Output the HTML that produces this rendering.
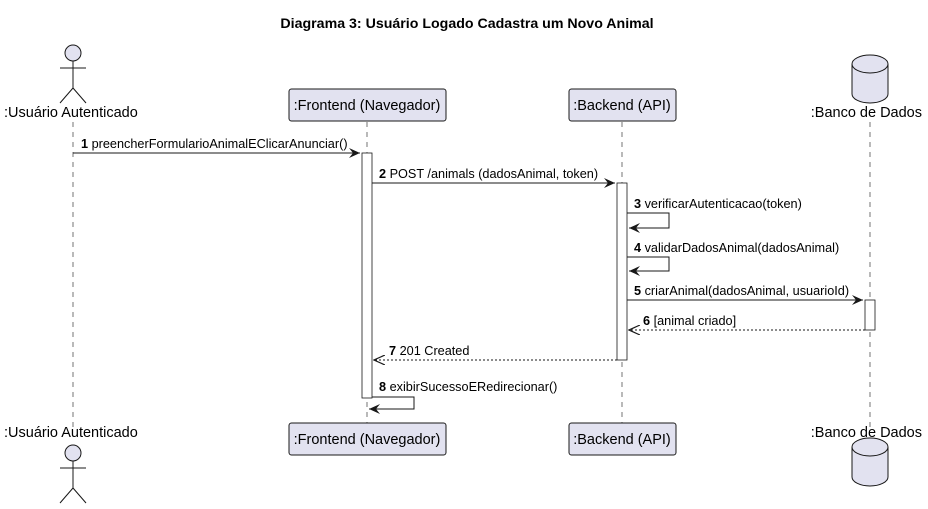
<!DOCTYPE html>
<html><head><meta charset="utf-8"><style>body{margin:0;background:#fff}</style></head><body>
<svg width="928" height="504" xmlns="http://www.w3.org/2000/svg" font-family="Liberation Sans, sans-serif" font-size="12">
<defs>
<marker id="a" markerWidth="12" markerHeight="10" refX="11" refY="5" orient="auto" markerUnits="userSpaceOnUse"><path d="M0,0 L11,5 L0,10 L4,5 Z" fill="#181818"/></marker>
<marker id="o" markerWidth="12" markerHeight="10" refX="11" refY="5" orient="auto" markerUnits="userSpaceOnUse"><path d="M0,0 L11,5 L0,10" fill="none" stroke="#181818" stroke-width="1.2"/></marker>
</defs>
<text x="467" y="28" text-anchor="middle" font-weight="bold" font-size="14.2">Diagrama 3: Usuário Logado Cadastra um Novo Animal</text>
<g stroke="#181818" stroke-dasharray="5,5" stroke-width="0.6">
<line x1="73" y1="122" x2="73" y2="428"/><line x1="367" y1="122" x2="367" y2="423"/>
<line x1="622" y1="122" x2="622" y2="423"/><line x1="870" y1="122" x2="870" y2="428"/>
</g>
<g fill="#E2E2F0" stroke="#181818" stroke-width="1">
<circle cx="73" cy="53" r="8"/>
<path d="M73 61 V88 M60 68 H86 M73 88 L60 103 M73 88 L86 103" fill="none"/>
<circle cx="73" cy="453" r="8"/>
<path d="M73 461 V488 M60 468 H86 M73 488 L60 503 M73 488 L86 503" fill="none"/>
<rect x="289" y="89" width="157" height="32" rx="2.5"/><rect x="569" y="89" width="107" height="32" rx="2.5"/>
<rect x="289" y="423" width="157" height="32" rx="2.5"/><rect x="569" y="423" width="107" height="32" rx="2.5"/>
<path d="M852 64 A18 9 0 0 1 888 64 V94 A18 9 0 0 1 852 94 Z"/>
<path d="M852 64 A18 9 0 0 0 888 64" fill="none"/>
<path d="M852 447 A18 9 0 0 1 888 447 V477 A18 9 0 0 1 852 477 Z"/>
<path d="M852 447 A18 9 0 0 0 888 447" fill="none"/>
</g>
<g font-size="14.5" fill="#000">
<text x="4" y="117">:Usuário Autenticado</text><text x="4" y="437">:Usuário Autenticado</text>
<text x="367" y="110" text-anchor="middle">:Frontend (Navegador)</text><text x="367" y="444" text-anchor="middle">:Frontend (Navegador)</text>
<text x="622" y="110" text-anchor="middle">:Backend (API)</text><text x="622" y="444" text-anchor="middle">:Backend (API)</text>
<text x="922" y="117" text-anchor="end">:Banco de Dados</text><text x="922" y="437" text-anchor="end">:Banco de Dados</text>
</g>
<g fill="#fff" stroke="#181818" stroke-width="0.8">
<rect x="362" y="153" width="10" height="245"/><rect x="617" y="183" width="10" height="177"/><rect x="865" y="300" width="10" height="30"/>
</g>
<g stroke="#181818" stroke-width="1" fill="none">
<line x1="73" y1="153" x2="360" y2="153" marker-end="url(#a)"/>
<line x1="372" y1="183" x2="615" y2="183" marker-end="url(#a)"/>
<path d="M627 213 H669 V228 H629" marker-end="url(#a)"/>
<path d="M627 257 H669 V271 H629" marker-end="url(#a)"/>
<line x1="627" y1="300" x2="863" y2="300" marker-end="url(#a)"/>
<line x1="865" y1="330" x2="629" y2="330" stroke-dasharray="2,2" marker-end="url(#o)"/>
<line x1="617" y1="360" x2="374" y2="360" stroke-dasharray="2,2" marker-end="url(#o)"/>
<path d="M372 397 H414 V409 H369" marker-end="url(#a)"/>
</g>
<g font-size="12.7" fill="#000">
<text x="81" y="148"><tspan font-weight="bold">1</tspan> preencherFormularioAnimalEClicarAnunciar()</text>
<text x="379" y="178"><tspan font-weight="bold">2</tspan> POST /animals (dadosAnimal, token)</text>
<text x="634" y="208"><tspan font-weight="bold">3</tspan> verificarAutenticacao(token)</text>
<text x="634" y="252"><tspan font-weight="bold">4</tspan> validarDadosAnimal(dadosAnimal)</text>
<text x="634" y="295"><tspan font-weight="bold">5</tspan> criarAnimal(dadosAnimal, usuarioId)</text>
<text x="643" y="325"><tspan font-weight="bold">6</tspan> [animal criado]</text>
<text x="389" y="355"><tspan font-weight="bold">7</tspan> 201 Created</text>
<text x="379" y="391"><tspan font-weight="bold">8</tspan> exibirSucessoERedirecionar()</text>
</g>
</svg>
</body></html>
